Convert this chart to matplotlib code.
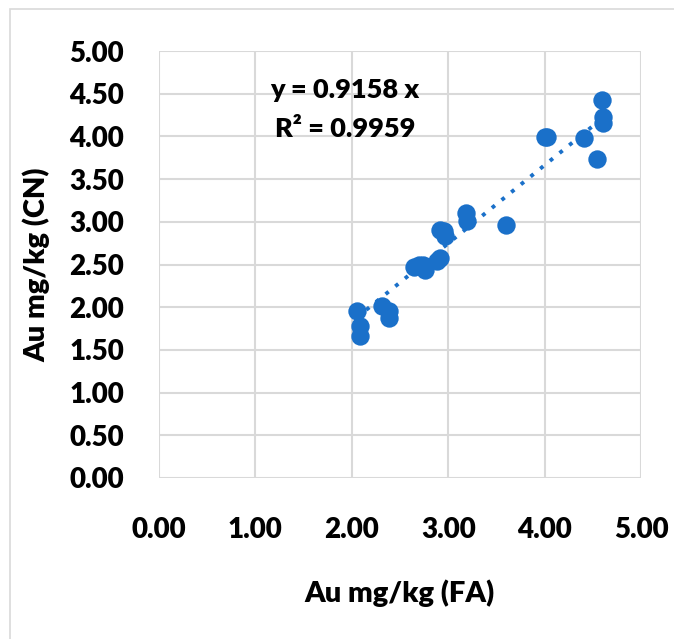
import numpy as np
import matplotlib.pyplot as plt
from matplotlib.patches import Rectangle

# Au mg/kg, fire assay (FA) vs cyanide (CN)
au_fa = [2.05, 2.08, 2.08, 2.31, 2.39, 2.39, 2.65, 2.70, 2.74, 2.76,
         2.88, 2.92, 2.92, 2.96, 2.97, 3.18, 3.19, 3.60, 4.00, 4.02,
         4.41, 4.54, 4.60, 4.61, 4.61]
au_cn = [1.96, 1.78, 1.66, 2.01, 1.95, 1.87, 2.47, 2.50, 2.50, 2.44,
         2.54, 2.58, 2.90, 2.89, 2.83, 3.10, 3.01, 2.96, 3.99, 3.99,
         3.98, 3.73, 4.43, 4.23, 4.16]
slope = 0.9158
r2 = 0.9959
ticks = [0, 1, 2, 3, 4, 5]

blue = '#1a70c9'
grid = '#d9d9d9'
font = 'Lato'
weight = 800

fig = plt.figure(figsize=(6.74, 6.39), dpi=100)
# outer chart border (only top and left edges are inside the picture)
fig.patches.append(Rectangle((10 / 674, -0.1), 1.0, 1.1 - 9 / 639, transform=fig.transFigure,
                             fill=False, edgecolor=grid, linewidth=1.2))

ax = fig.add_axes([159 / 674, 161 / 639, 482 / 674, 427 / 639])
ax.set_xlim(0, 5)
ax.set_ylim(0, 5)
ax.set_xticks(ticks)
ax.set_yticks(np.arange(0, 5.01, 0.5))
ax.set_xticklabels([f'{t:.2f}' for t in ticks])
ax.set_yticklabels([f'{t:.2f}' for t in np.arange(0, 5.01, 0.5)])
ax.grid(True, color=grid, linewidth=1.5)
ax.set_axisbelow(True)
for s in ax.spines.values():
    s.set_visible(False)
ax.tick_params(length=0)
ax.tick_params(axis='x', pad=28)
ax.tick_params(axis='y', pad=25)
for lab in ax.get_xticklabels() + ax.get_yticklabels():
    lab.set_fontfamily(font)
    lab.set_fontweight(weight)
    lab.set_fontsize(20)

# trendline through origin
xs = np.array([min(au_fa), max(au_fa)])
ax.plot(xs, slope * xs, linestyle=(0, (1, 2.2)), color=blue, linewidth=2.8, zorder=2)
ax.scatter(au_fa, au_cn, s=175, color=blue, zorder=3, linewidths=0)

ax.text(1.93, 4.32, f'y = {slope} x\nR² = {r2}', ha='center', va='center',
        fontfamily=font, fontweight=weight, fontsize=19.5, linespacing=1.75)

ax.set_xlabel('Au mg/kg (FA)', fontfamily=font, fontweight=weight, fontsize=21, labelpad=26)
ax.set_ylabel('Au mg/kg (CN)', fontfamily=font, fontweight=weight, fontsize=21, labelpad=14)

fig.savefig('out.png', dpi=100)
